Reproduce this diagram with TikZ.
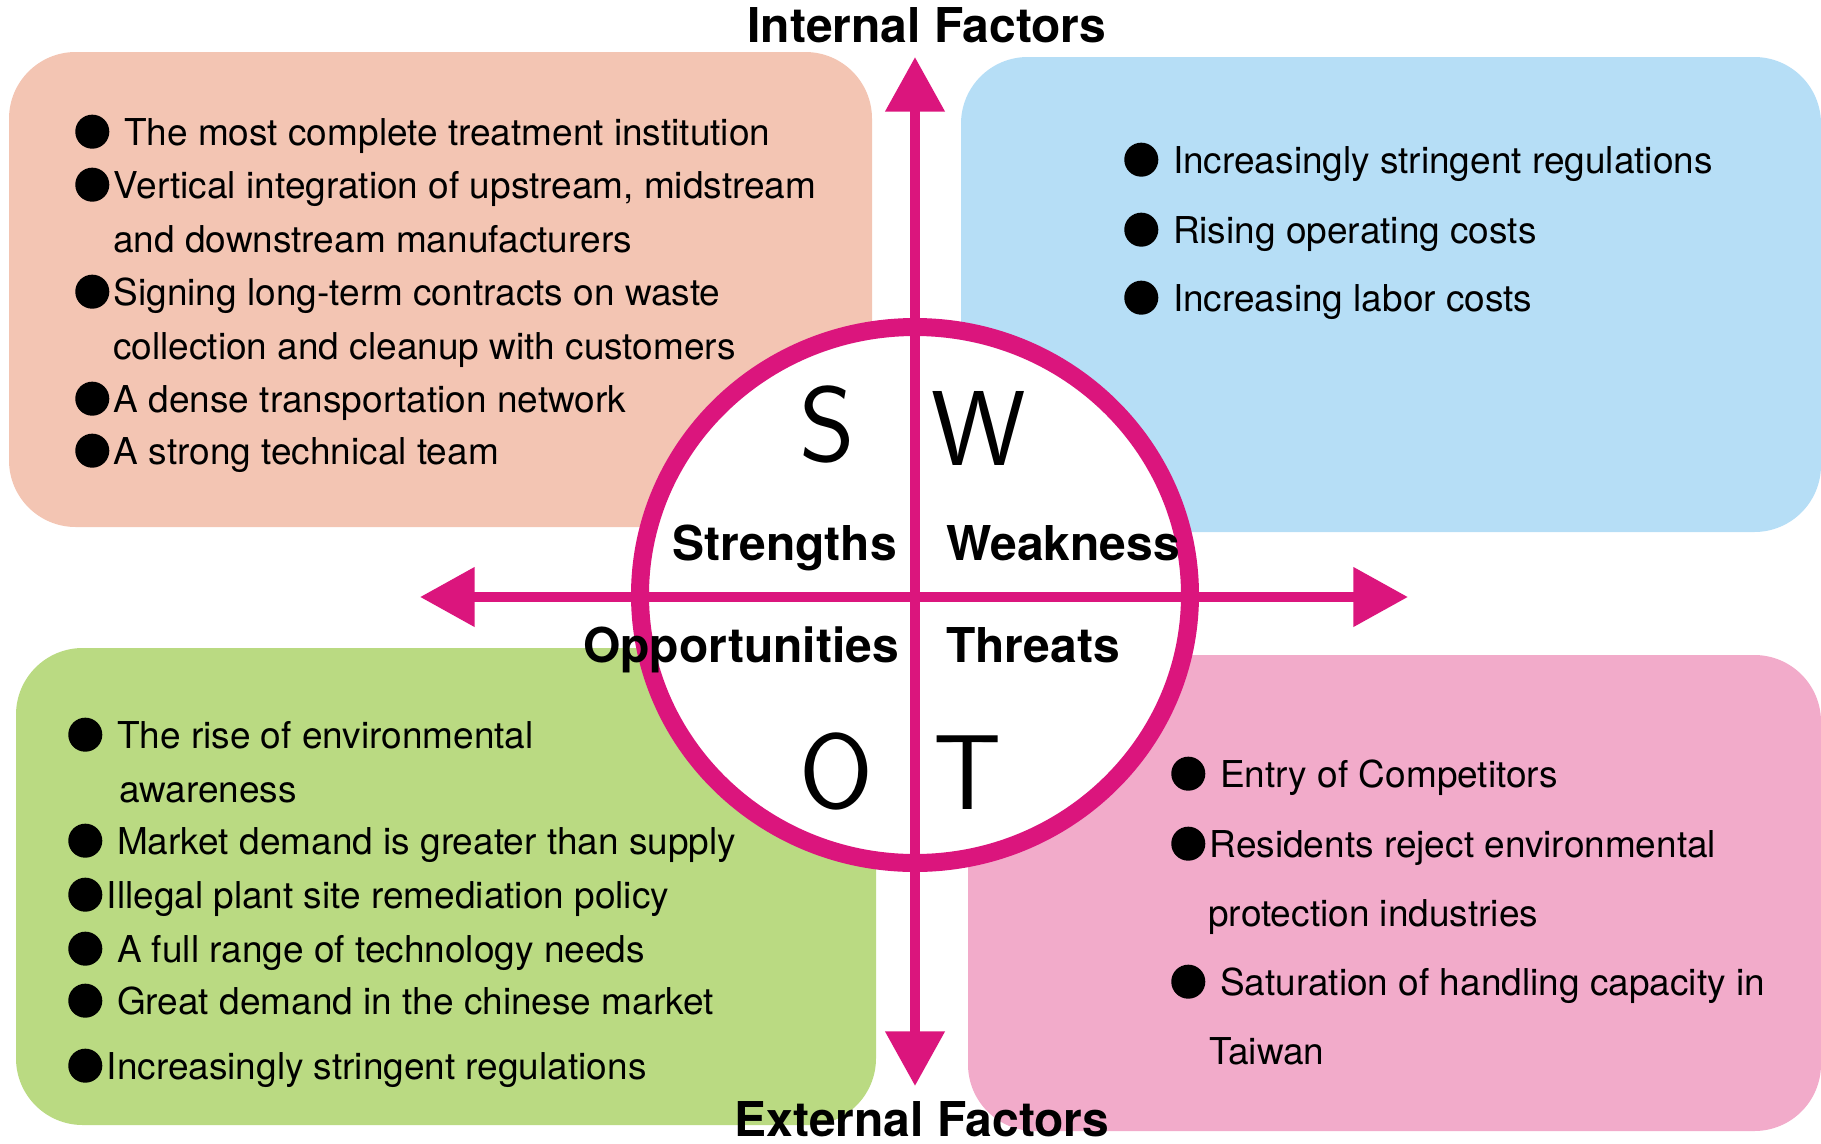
\documentclass[tikz,border=0pt]{standalone}
\usepackage{fontspec}
\setmainfont{TeX Gyre Heros}
\usetikzlibrary{arrows.meta}
\definecolor{swotpeach}{RGB}{243,197,179}
\definecolor{swotblue}{RGB}{182,222,246}
\definecolor{swotgreen}{RGB}{186,218,130}
\definecolor{swotpink}{RGB}{242,171,202}
\definecolor{swotmag}{RGB}{219,21,125}
\newcommand{\blt}{\tikz[baseline=-0.36em]\fill (0,0) circle (0.46em);\hspace{0.12em}}

\begin{document}
\begin{tikzpicture}[x=0.75pt,y=0.75pt,yscale=-1,xscale=1,
  box/.style={rounded corners=50pt},
  itemtext/.style={anchor=base west,inner sep=0pt,font=\fontsize{27.75}{33}\selectfont},
  quad/.style={inner sep=0pt,font=\fontsize{36}{40}\selectfont\bfseries},
  letter/.style={anchor=base,inner sep=0pt,font=\fontsize{80}{84}\selectfont\sffamily},
  axisarrow/.style={draw=swotmag,line width=7.5pt,{Triangle[width=43pt,length=41pt]}-{Triangle[width=43pt,length=41pt]}}]
\useasboundingbox (0,0) rectangle (1821,1143);

%Shape: Rectangle [strengths box]
\fill [swotpeach, box] (9,52) rectangle (872,527);
%Shape: Rectangle [weakness box]
\fill [swotblue, box] (961,57) rectangle (1821,532);
%Shape: Rectangle [opportunities box]
\fill [swotgreen, box] (16,648) rectangle (876,1125);
%Shape: Rectangle [threats box]
\fill [swotpink, box] (968,655) rectangle (1821,1131);

%Shape: Ellipse [swot ring]
\draw [draw=swotmag, fill=white, line width=13.5pt] (915,595) ellipse [x radius=275, y radius=268];

%Straight Lines [axes]
\coordinate (up) at (915,57);
\coordinate (down) at (915,1086);
\coordinate (left) at (420,597);
\coordinate (right) at (1408,597);
\draw [axisarrow] (down) -- (up);
\draw [axisarrow] (left) -- (right);

% Text Node
\node [quad, anchor=base] (intf) at (927,42) {Internal Factors};
% Text Node
\node [quad, anchor=base] (extf) at (922,1136) {External Factors};
% Text Node
\node [quad, anchor=base east] (str) at (897,560) {Strengths};
% Text Node
\node [quad, anchor=base west] (wea) at (946,560) {Weakness};
% Text Node
\node [quad, anchor=base east] (opp) at (899,662) {Opportunities};
% Text Node
\node [quad, anchor=base west] (thr) at (946,662) {Threats};

% Text Node
\node [letter] (ls) at (827,461) {S};
% Text Node
\node [letter] (lw) at (979,465) {W};
% Text Node
\node [letter] (lo) at (836,808) {O};
% Text Node
\node [letter] (lt) at (968,809) {T};

% Text Node
\node [itemtext] (s1) at (75,145) {\blt\ The most complete treatment institution};
\node [itemtext] (s2) at (75,198) {\blt Vertical integration of upstream, midstream};
\node [itemtext] (s3) at (113,252) {and downstream manufacturers};
\node [itemtext] (s4) at (75,305) {\blt Signing long-term contracts on waste};
\node [itemtext] (s5) at (113,359) {collection and cleanup with customers};
\node [itemtext] (s6) at (75,412) {\blt A dense transportation network};
\node [itemtext] (s7) at (75,464) {\blt A strong technical team};

% Text Node
\node [itemtext] (w1) at (1124,173) {\blt\ Increasingly stringent regulations};
\node [itemtext] (w2) at (1124,243) {\blt\ Rising operating costs};
\node [itemtext] (w3) at (1124,311) {\blt\ Increasing labor costs};

% Text Node
\node [itemtext] (o1) at (68,748) {\blt\ The rise of environmental};
\node [itemtext] (o2) at (119,802) {awareness};
\node [itemtext] (o3) at (68,854) {\blt\ Market demand is greater than supply};
\node [itemtext] (o4) at (68,908) {\blt Illegal plant site remediation policy};
\node [itemtext] (o5) at (68,962) {\blt\ A full range of technology needs};
\node [itemtext] (o6) at (68,1014) {\blt\ Great demand in the chinese market};
\node [itemtext] (o7) at (68,1079) {\blt Increasingly stringent regulations};

% Text Node
\node [itemtext] (t1) at (1171,787) {\blt\ Entry of Competitors};
\node [itemtext] (t2) at (1171,857) {\blt Residents reject environmental};
\node [itemtext] (t3) at (1208,926) {protection industries};
\node [itemtext] (t4) at (1171,995) {\blt\ Saturation of handling capacity in};
\node [itemtext] (t5) at (1209,1064) {Taiwan};

\end{tikzpicture}
\end{document}
